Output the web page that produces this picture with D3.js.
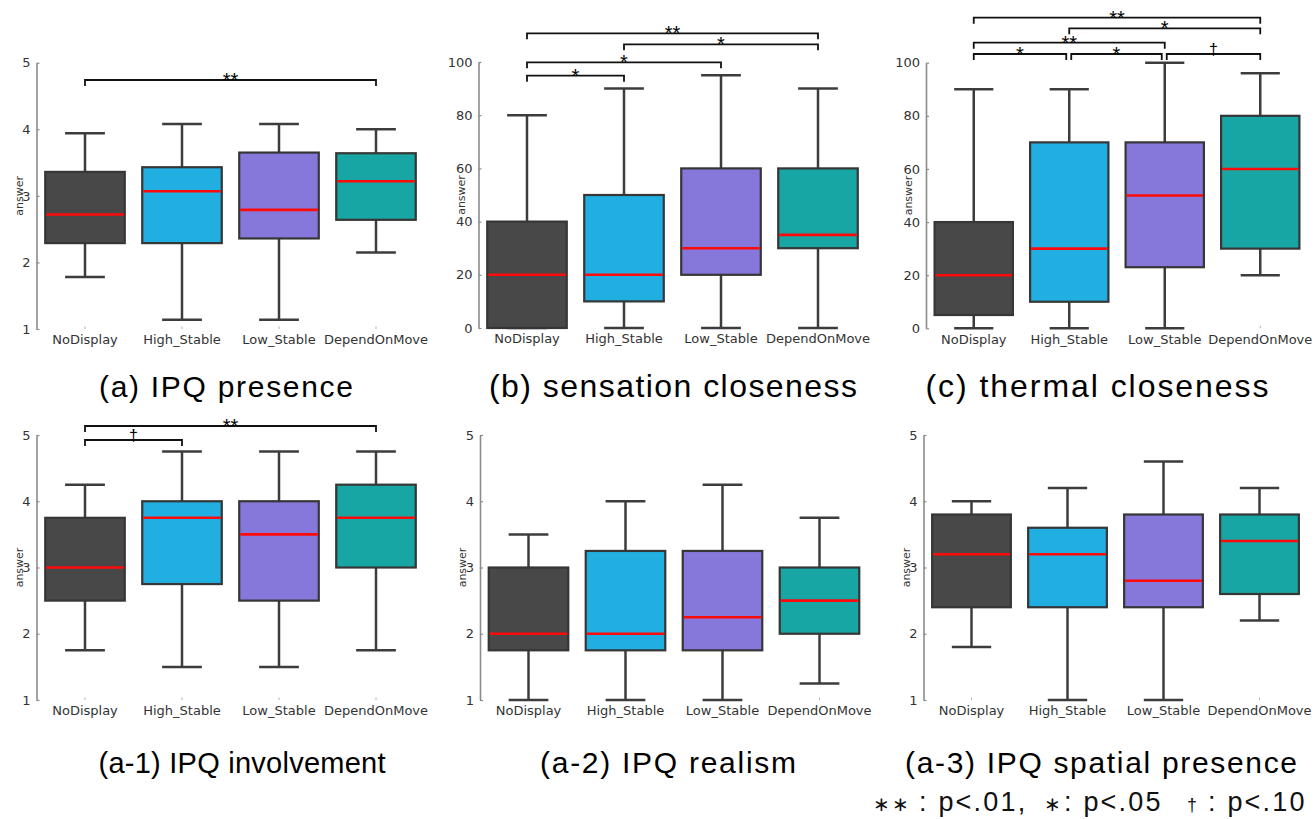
<!DOCTYPE html>
<html>
<head>
<meta charset="utf-8">
<script src="https://cdn.jsdelivr.net/npm/d3@7"></script>
<style>
  html, body { margin: 0; padding: 0; background: #fff; }
  svg { display: block; }
  .tick-label { font-family: "DejaVu Sans", sans-serif; font-size: 13px; fill: #333; }
  .axis-title { font-family: "DejaVu Sans", sans-serif; font-size: 11px; fill: #333; }
  .panel-title { font-family: "Liberation Sans", Arial, sans-serif; fill: #000; }
  .sig { font-family: "Liberation Sans", Arial, sans-serif; fill: #000; }
  .legend { font-family: "Liberation Sans", Arial, sans-serif; font-size: 27px; letter-spacing: 2.2px; fill: #111; }
</style>
</head>
<body>
<div id="chart"></div>
<script>
const categories = ["NoDisplay", "High_Stable", "Low_Stable", "DependOnMove"];
const boxColors = ["#484848", "#21aee0", "#8678da", "#18a6a5"];

// [lower whisker, Q1, median, Q3, upper whisker] per category
const ipqPresence = [[1.78, 2.29, 2.72, 3.36, 3.94], [1.14, 2.29, 3.07, 3.43, 4.08], [1.14, 2.36, 2.79, 3.65, 4.08], [2.15, 2.64, 3.22, 3.64, 4.0]];
const sensationCloseness = [[0, 0, 20, 40, 80], [0, 10, 20, 50, 90], [0, 20, 30, 60, 95], [0, 30, 35, 60, 90]];
const thermalCloseness = [[0, 5, 20, 40, 90], [0, 10, 30, 70, 90], [0, 23, 50, 70, 100], [20, 30, 60, 80, 96]];
const ipqInvolvement = [[1.75, 2.5, 3.0, 3.75, 4.25], [1.5, 2.75, 3.75, 4.0, 4.75], [1.5, 2.5, 3.5, 4.0, 4.75], [1.75, 3.0, 3.75, 4.25, 4.75]];
const ipqRealism = [[1, 1.75, 2, 3, 3.5], [1, 1.75, 2, 3.25, 4], [1, 1.75, 2.25, 3.25, 4.25], [1.25, 2, 2.5, 3, 3.75]];
const ipqSpatial = [[1.8, 2.4, 3.2, 3.8, 4.0], [1.0, 2.4, 3.2, 3.6, 4.2], [1.0, 2.4, 2.8, 3.8, 4.6], [2.2, 2.6, 3.4, 3.8, 4.2]];

const ticksLikert = [1, 2, 3, 4, 5];
const ticksPercent = [0, 20, 40, 60, 80, 100];

// significance brackets: [from, to, label]
const presenceSig = [["NoDisplay", "DependOnMove", "**"]];
const sensationSig = [["NoDisplay", "High_Stable", "*"], ["NoDisplay", "Low_Stable", "*"], ["High_Stable", "DependOnMove", "*"], ["NoDisplay", "DependOnMove", "**"]];
const thermalSig = [["NoDisplay", "High_Stable", "*"], ["High_Stable", "Low_Stable", "*"], ["Low_Stable", "DependOnMove", "†"], ["NoDisplay", "Low_Stable", "**"], ["High_Stable", "DependOnMove", "*"], ["NoDisplay", "DependOnMove", "**"]];
const involvementSig = [["NoDisplay", "High_Stable", "†"], ["NoDisplay", "DependOnMove", "**"]];

const W = 1315, H = 819;

const svg = d3.select("#chart").append("svg")
    .attr("width", W)
    .attr("height", H);

// Panel layout (pixel positions of each small chart)
const panels = [
    {data: ipqPresence, ticks: ticksLikert, domain: [1, 5], sig: presenceSig, sigY: [80],
     x0: 36.5, width: 388, top: 62.7, bottom: 329,
     title: "(a) IPQ presence", titleX: 226, titleY: 397, titleSize: 30, titleLen: 254},
    {data: sensationCloseness, ticks: ticksPercent, domain: [0, 100], sig: sensationSig, sigY: [75.7, 62.3, 44.3, 33.3],
     x0: 478.5, width: 388, top: 62, bottom: 328,
     title: "(b) sensation closeness", titleX: 673, titleY: 397, titleSize: 32, titleLen: 368},
    {data: thermalCloseness, ticks: ticksPercent, domain: [0, 100], sig: thermalSig, sigY: [54, 54, 54, 42.7, 28.3, 17.7],
     x0: 926, width: 382, top: 62.7, bottom: 328.3,
     title: "(c) thermal closeness", titleX: 1097, titleY: 397, titleSize: 32, titleLen: 343},
    {data: ipqInvolvement, ticks: ticksLikert, domain: [1, 5], sig: involvementSig, sigY: [440, 426],
     x0: 36.5, width: 388, top: 435, bottom: 700,
     title: "(a-1) IPQ involvement", titleX: 242, titleY: 773, titleSize: 29, titleLen: 287},
    {data: ipqRealism, ticks: ticksLikert, domain: [1, 5], sig: [], sigY: [],
     x0: 480, width: 388, top: 435, bottom: 700,
     title: "(a-2) IPQ realism", titleX: 668, titleY: 773, titleSize: 30, titleLen: 256},
    {data: ipqSpatial, ticks: ticksLikert, domain: [1, 5], sig: [], sigY: [],
     x0: 923.5, width: 384, top: 435, bottom: 700,
     title: "(a-3) IPQ spatial presence", titleX: 1101, titleY: 773, titleSize: 30, titleLen: 392},
];

panels.forEach(drawPanel);

function drawPanel(p) {
    const g = svg.append("g").attr("class", "panel");

    const x = d3.scaleBand()
        .domain(categories)
        .range([p.x0, p.x0 + p.width])
        .paddingInner(0.18)
        .paddingOuter(0.09);
    const y = d3.scaleLinear().domain(p.domain).range([p.bottom, p.top]);
    const bw = x.bandwidth();
    const cx = c => x(c) + bw / 2;

    // Left axis
    const yAxis = d3.axisLeft(y).tickValues(p.ticks).tickFormat(d3.format("d"))
        .tickSize(-3).tickPadding(6).tickSizeOuter(0);
    const ax = g.append("g")
        .attr("transform", `translate(${p.x0},0)`)
        .call(yAxis);
    ax.select(".domain").attr("stroke", "#8c8c8c").attr("stroke-width", 1.6);
    ax.selectAll(".tick line").attr("stroke", "#8c8c8c").attr("stroke-width", 1.2);
    ax.selectAll(".tick text").attr("class", "tick-label").attr("fill", null);

    // Bottom axis (labels and tiny ticks only)
    const xAxis = d3.axisBottom(x).tickSize(-2.5).tickPadding(6).tickSizeOuter(0);
    const bx = g.append("g")
        .attr("transform", `translate(0,${p.bottom})`)
        .call(xAxis);
    bx.select(".domain").remove();
    bx.selectAll(".tick line").attr("stroke", "#b0b0b0").attr("stroke-width", 1);
    bx.selectAll(".tick text").attr("class", "tick-label").attr("fill", null);

    // Vertical axis title
    g.append("text")
        .attr("class", "axis-title")
        .attr("transform", `translate(${p.x0 - 14},${(p.top + p.bottom) / 2}) rotate(-90)`)
        .attr("text-anchor", "middle")
        .text("answer");

    // Boxes
    const items = g.selectAll(".box")
        .data(p.data.map((d, i) => ({cat: categories[i], v: d, color: boxColors[i]})))
        .enter().append("g")
        .attr("class", "box");

    // whiskers
    items.append("line")
        .attr("x1", d => cx(d.cat)).attr("x2", d => cx(d.cat))
        .attr("y1", d => y(d.v[0])).attr("y2", d => y(d.v[4]))
        .attr("stroke", "#3c3c3c").attr("stroke-width", 2.5);
    [0, 4].forEach(k => {
        items.append("line")
            .attr("x1", d => cx(d.cat) - bw / 4).attr("x2", d => cx(d.cat) + bw / 4)
            .attr("y1", d => y(d.v[k])).attr("y2", d => y(d.v[k]))
            .attr("stroke", "#3c3c3c").attr("stroke-width", 2.5);
    });

    items.append("rect")
        .attr("x", d => x(d.cat))
        .attr("width", bw)
        .attr("y", d => y(d.v[3]))
        .attr("height", d => y(d.v[1]) - y(d.v[3]))
        .attr("fill", d => d.color)
        .attr("stroke", "#363636")
        .attr("stroke-width", 2.2);

    // median
    items.append("line")
        .attr("x1", d => x(d.cat) + 1).attr("x2", d => x(d.cat) + bw - 1)
        .attr("y1", d => y(d.v[2])).attr("y2", d => y(d.v[2]))
        .attr("stroke", "#ff0a0a").attr("stroke-width", 2.6);

    // Significance brackets
    p.sig.forEach((s, i) => {
        const ly = p.sigY[i];
        // shrink ends that meet another bracket on the same level
        const shared = c => p.sig.some((o, j) => j !== i && p.sigY[j] === ly && (o[0] === c || o[1] === c));
        const xa = cx(s[0]) + (shared(s[0]) ? 2 : 0);
        const xb = cx(s[1]) - (shared(s[1]) ? 3 : 0);
        g.append("path")
            .attr("d", `M${xa},${ly + 6}V${ly}H${xb}V${ly + 6}`)
            .attr("fill", "none")
            .attr("stroke", "#111")
            .attr("stroke-width", 1.8);
        const dagger = s[2] === "†";
        g.append("text")
            .attr("class", "sig")
            .attr("x", (xa + xb) / 2)
            .attr("y", dagger ? ly + 1 : ly + 7)
            .attr("text-anchor", "middle")
            .style("font-size", dagger ? "16px" : "20px")
            .text(s[2]);
    });

    // Panel title
    svg.append("text")
        .attr("class", "panel-title")
        .attr("x", p.titleX)
        .attr("y", p.titleY)
        .attr("text-anchor", "middle")
        .attr("textLength", p.titleLen)
        .attr("lengthAdjust", "spacing")
        .style("font-size", p.titleSize + "px")
        .text(p.title);
}

// Significance legend
const legend = svg.append("text").attr("class", "legend").attr("y", 811);
[["∗∗", 873, 20], [": p<.01,", 919, 27], ["∗", 1044, 20], [": p<.05", 1064, 27], ["†", 1187, 18], [": p<.10", 1208, 27]]
    .forEach(t => legend.append("tspan").attr("x", t[1]).style("font-size", t[2] + "px").text(t[0]));
</script>
</body>
</html>
